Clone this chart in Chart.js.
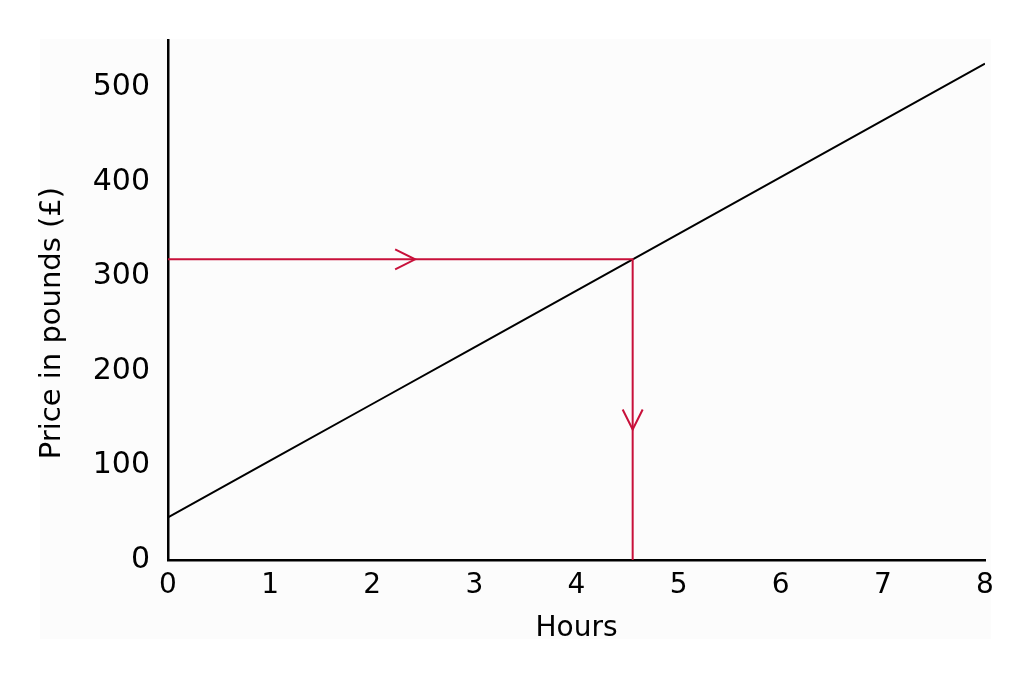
<!DOCTYPE html>
<html>
<head>
<meta charset="utf-8">
<script src="https://cdn.jsdelivr.net/npm/chart.js@4/dist/chart.umd.min.js"></script>
<style>
  html, body { margin: 0; padding: 0; background: #fff; }
  #wrap { position: relative; width: 1033px; height: 678px; }
  #bg { position: absolute; left: 40px; top: 39px; width: 951px; height: 600px; background: #fcfcfc; }
  #myChart { position: absolute; left: 0; top: 0; }
</style>
</head>
<body>
<div id="wrap">
  <div id="bg"></div>
  <canvas id="myChart" width="1033" height="678"></canvas>
</div>
<script>
// price line
const hours = [0, 1, 2, 3, 4, 5, 6, 7, 8];
const prices = [45, 105, 165, 225, 285, 345, 405, 465, 525];

// reading off the graph: £318 -> about 4.55 hours
const readX = [0, 4.55, 4.55];
const readY = [318, 318, 0];

// arrow heads along the reading line
const arrowX = [2.42, 4.55];
const arrowY = [318, 138];
const arrowDir = ['right', 'down'];

const xTicks = [0, 1, 2, 3, 4, 5, 6, 7, 8];
const yTicks = [0, 100, 200, 300, 400, 500];

const red = '#c8103a';
const font = "'DejaVu Sans', sans-serif";

const arrowPlugin = {
  id: 'arrows',
  afterDatasetsDraw(chart) {
    const c = chart.ctx;
    const xs = chart.scales.x, ys = chart.scales.y;
    c.save();
    c.strokeStyle = red;
    c.lineWidth = 2;
    for (let i = 0; i < arrowX.length; i++) {
      const px = xs.getPixelForValue(arrowX[i]);
      const py = ys.getPixelForValue(arrowY[i]);
      c.beginPath();
      if (arrowDir[i] === 'right') {
        c.moveTo(px - 20, py - 10);
        c.lineTo(px, py);
        c.lineTo(px - 20, py + 10);
      } else {
        c.moveTo(px - 10, py - 20);
        c.lineTo(px, py);
        c.lineTo(px + 10, py - 20);
      }
      c.stroke();
    }
    c.restore();
  }
};

const ctx = document.getElementById('myChart');
new Chart(ctx, {
  type: 'scatter',
  data: {
    datasets: [{
      data: hours.map((h, i) => ({ x: h, y: prices[i] })),
      showLine: true,
      borderColor: '#000',
      borderWidth: 2,
      pointRadius: 0,
      order: 2
    }, {
      data: readX.map((x, i) => ({ x: x, y: readY[i] })),
      showLine: true,
      borderColor: red,
      borderWidth: 2,
      pointRadius: 0,
      order: 1
    }]
  },
  options: {
    responsive: false,
    animation: false,
    layout: { padding: { left: 0, right: 48, top: 40, bottom: 0 } },
    plugins: { legend: { display: false }, tooltip: { enabled: false } },
    scales: {
      x: {
        type: 'linear',
        min: 0,
        max: 8,
        afterBuildTicks: s => { s.ticks = xTicks.map(v => ({ value: v })); },
        afterFit: s => { s.height = 118; },
        grid: { display: false, drawTicks: false },
        border: { display: true, color: '#000', width: 2.5 },
        ticks: { color: '#000', padding: 9, font: { family: font, size: 28 }, maxRotation: 0 },
        title: { display: true, text: 'Hours', color: '#000', font: { family: font, size: 28 }, padding: { top: 0, bottom: 32 } }
      },
      y: {
        type: 'linear',
        min: 0,
        max: 550,
        afterBuildTicks: s => { s.ticks = yTicks.map(v => ({ value: v })); },
        afterFit: s => { s.width = 168; },
        grid: { display: false, drawTicks: false },
        border: { display: true, color: '#000', width: 2.5 },
        ticks: { color: '#000', padding: 18, font: { family: font, size: 30 } },
        // trailing spaces nudge the title down a little, as in the original
        title: { display: true, text: 'Price in pounds (£)\u00a0\u00a0\u00a0\u00a0\u00a0', color: '#000', font: { family: font, size: 29 }, padding: { top: 35, bottom: 0 } }
      }
    }
  },
  plugins: [arrowPlugin]
});
</script>
</body>
</html>
